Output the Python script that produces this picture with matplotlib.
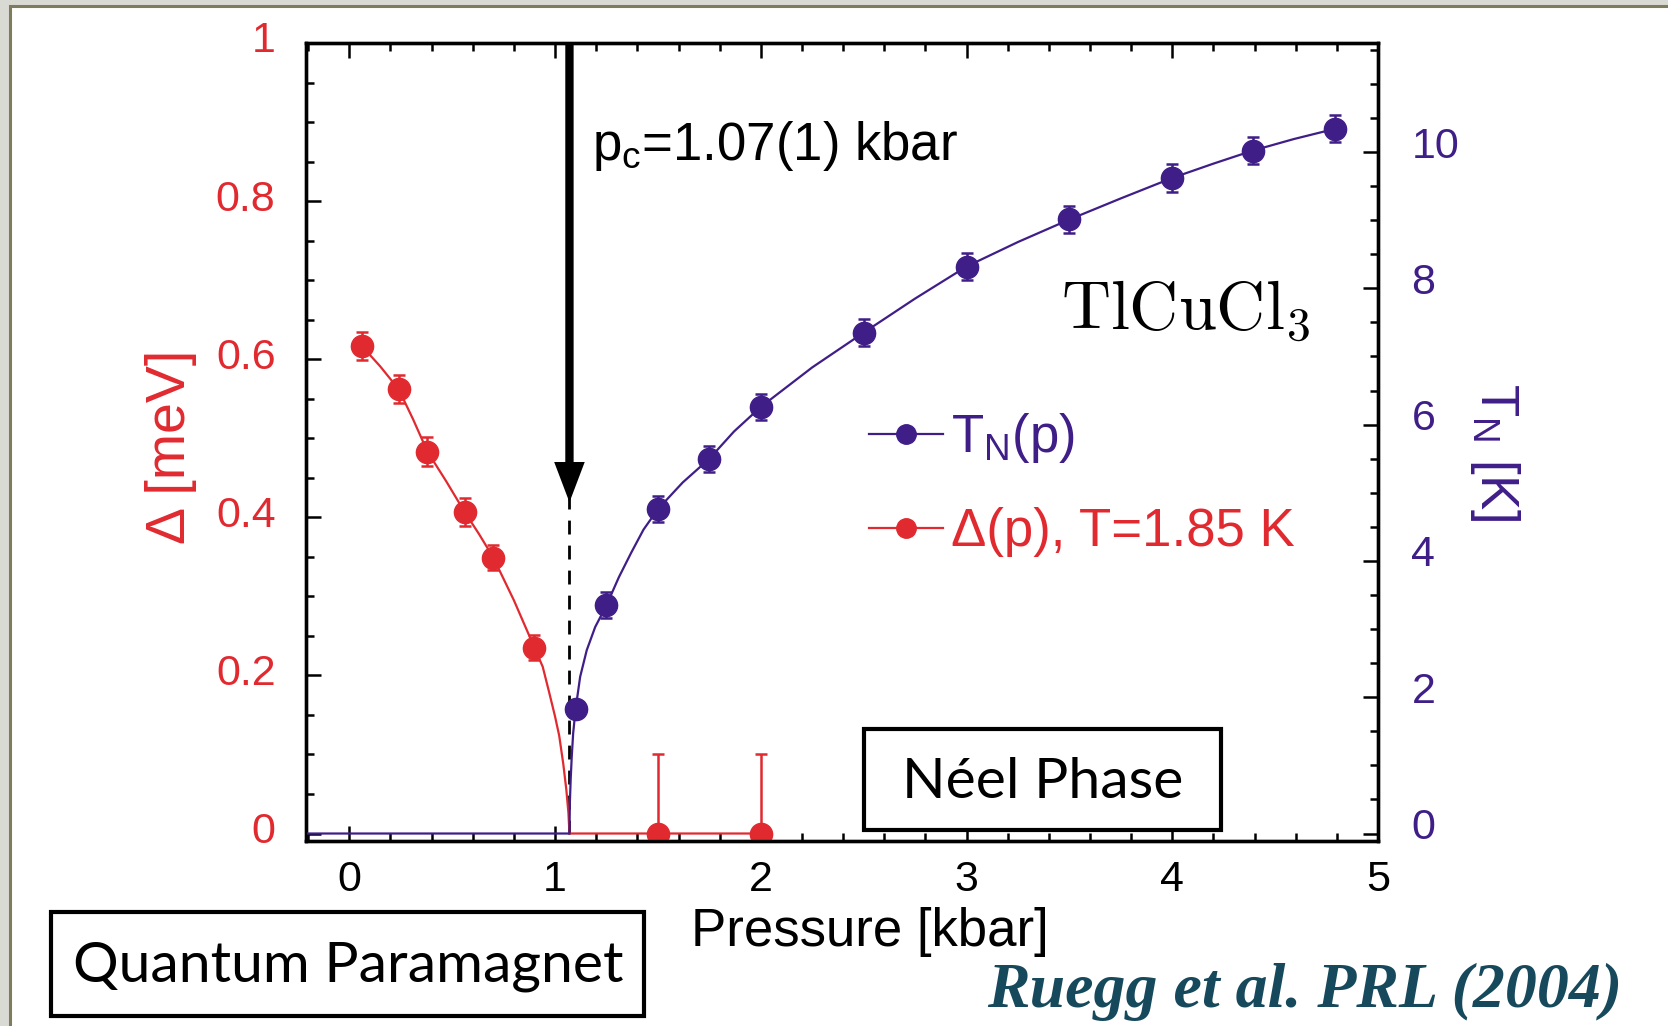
import matplotlib
matplotlib.use("Agg")
import matplotlib.pyplot as plt
from matplotlib.lines import Line2D
from matplotlib.patches import Rectangle
from matplotlib.ticker import MultipleLocator, FuncFormatter
from matplotlib.transforms import ScaledTranslation

plt.rcParams['font.family'] = ['Liberation Sans', 'DejaVu Sans']
plt.rcParams['mathtext.fontset'] = 'custom'
plt.rcParams['mathtext.rm'] = 'Liberation Sans'
plt.rcParams['mathtext.it'] = 'Liberation Sans:italic'

red = '#e02a30'
purple = '#3f1e88'

# gap Delta(p) at T = 1.85 K  [meV]
gap_p = [0.06, 0.24, 0.38, 0.56, 0.70, 0.90, 1.50, 2.00]
gap = [0.617, 0.562, 0.483, 0.407, 0.349, 0.235, 0.0, 0.0]
gap_err_lo = [0.018, 0.018, 0.018, 0.018, 0.016, 0.016, 0.0, 0.0]
gap_err_hi = [0.018, 0.018, 0.018, 0.018, 0.016, 0.016, 0.1, 0.1]

# Neel temperature T_N(p)  [K]
tn_p = [1.10, 1.25, 1.50, 1.75, 2.00, 2.50, 3.00, 3.50, 4.00, 4.39, 4.79]
tn = [1.83, 3.35, 4.76, 5.50, 6.26, 7.35, 8.32, 9.01, 9.62, 10.02, 10.34]
tn_err = [0.12, 0.19, 0.19, 0.19, 0.19, 0.2, 0.2, 0.2, 0.2, 0.2, 0.2]

# fitted curves
gap_fit_p = [0.06, 0.15, 0.24, 0.31, 0.38, 0.47, 0.56, 0.63, 0.70, 0.80, 0.90, 0.94, 0.97,
             1.00, 1.02, 1.04, 1.055, 1.065, 1.07, 2.00]
gap_fit = [0.617, 0.591, 0.562, 0.524, 0.483, 0.446, 0.407, 0.379, 0.349, 0.295, 0.235, 0.211,
           0.180, 0.148, 0.124, 0.088, 0.055, 0.026, 0.0, 0.0]
tn_fit_p = [-0.2, 1.07, 1.072, 1.076, 1.081, 1.088, 1.10, 1.122, 1.154, 1.195, 1.25, 1.31, 1.37,
            1.43, 1.50, 1.62, 1.75, 1.87, 2.00, 2.25, 2.50, 2.75, 3.00, 3.25, 3.50, 3.75,
            4.00, 4.20, 4.39, 4.59, 4.79]
tn_fit = [0, 0, 0.45, 0.80, 1.12, 1.47, 1.83, 2.30, 2.69, 3.03, 3.35, 3.76, 4.12,
          4.46, 4.76, 5.15, 5.50, 5.90, 6.26, 6.84, 7.35, 7.85, 8.32, 8.68, 9.01, 9.32,
          9.62, 9.83, 10.02, 10.19, 10.34]

p_c = 1.07
arrow_tip = 0.431

fig = plt.figure(figsize=(16.68, 10.26), dpi=100)
fig.patch.set_facecolor('#dadad5')
# white slide panel with olive border
fig.add_artist(Rectangle((0.0057, -0.1), 1.2, 1.0937, transform=fig.transFigure,
                         facecolor='white', edgecolor='#7e7c5c', lw=2.2, zorder=0))

ax = fig.add_axes([0.1835, 0.1803, 0.6427, 0.7778])
ax.set_facecolor('none')
ax2 = ax.twinx()

# left axis: gap
ax.plot(gap_fit_p, gap_fit, color=red, lw=1.6, zorder=3)
ax.errorbar(gap_p, gap, yerr=[gap_err_lo, gap_err_hi], fmt='o', color=red, ms=16,
            ecolor=red, elinewidth=1.8, capsize=4, capthick=1.8, zorder=4)

# right axis: Neel temperature
ax2.plot(tn_fit_p, tn_fit, color=purple, lw=1.6, zorder=3)
ax2.errorbar(tn_p, tn, yerr=tn_err, fmt='o', color=purple, ms=16,
             ecolor=purple, elinewidth=1.8, capsize=4, capthick=1.8, zorder=4)

# critical pressure marker
ax.plot([p_c, p_c], [0, arrow_tip], color='black', lw=2, ls=(0, (5, 4)), zorder=2)
ax.annotate('', xy=(p_c, arrow_tip - 0.012), xytext=(p_c, 1.0),
            arrowprops=dict(arrowstyle='simple,head_length=2.9,head_width=2.2,tail_width=0.6',
                            mutation_scale=10, lw=0, color='black',
                            shrinkA=0, shrinkB=0))

ax.set_xlim(-0.21, 5)
ax.set_ylim(-0.0095, 1.0)
ax2.set_ylim(-0.11, 11.6)

ax.xaxis.set_major_locator(MultipleLocator(1))
ax.xaxis.set_minor_locator(MultipleLocator(0.2))
ax.yaxis.set_major_locator(MultipleLocator(0.2))
ax.yaxis.set_minor_locator(MultipleLocator(0.05))
ax.yaxis.set_major_formatter(FuncFormatter(lambda v, pos: f'{v:g}'))
ax2.yaxis.set_major_locator(MultipleLocator(2))
ax2.yaxis.set_minor_locator(MultipleLocator(0.5))

ax.tick_params(which='both', direction='in', top=True, right=False, width=1.8)
ax.tick_params(which='major', length=11)
ax.tick_params(which='minor', length=6)
ax.tick_params(axis='x', labelsize=31, pad=14)
ax.tick_params(axis='y', labelsize=31, labelcolor=red, pad=22)
ax2.tick_params(which='both', direction='in', width=1.8)
ax2.tick_params(which='major', length=11, labelsize=31, labelcolor=purple, pad=24)
ax2.tick_params(which='minor', length=6)
for a in (ax, ax2):
    for s in a.spines.values():
        s.set_linewidth(2.4)

ax.set_xlabel('Pressure [kbar]', fontsize=38)
ax.xaxis.set_label_coords(0.526, -0.083)
ax.set_ylabel('Δ [meV]', fontsize=40, color=red)
ax.yaxis.set_label_coords(-0.102, 0.494)
ax2.set_ylabel(r'T$_\mathrm{N}$ [K]', fontsize=38, color=purple, rotation=270)
ax2.yaxis.set_label_coords(1.134, 0.487)

# legend
handles = [Line2D([], [], color=purple, marker='o', ms=14, lw=1.6),
           Line2D([], [], color=red, marker='o', ms=14, lw=1.6)]
leg = ax2.legend(handles, [r'T$_\mathrm{N}$(p)', 'Δ(p), T=1.85 K'], fontsize=38,
                 loc='upper left', bbox_to_anchor=(0.505, 0.625), bbox_transform=fig.transFigure,
                 frameon=False, handlelength=1.4, handletextpad=0.15, labelspacing=0.8,
                 borderpad=0, labelcolor='linecolor')

# annotations
fig.text(0.355, 0.858, r'p$_\mathrm{c}$=1.07(1) kbar', fontsize=38, ha='left', va='center')
fig.text(0.711, 0.697, r'$\mathrm{TlCuCl}_3$', fontsize=49, ha='center', va='center',
         math_fontfamily='cm')

fig.add_artist(Rectangle((864 / 1668, 1 - 830 / 1026), 357 / 1668, 101 / 1026,
                         transform=fig.transFigure, facecolor='white', edgecolor='black',
                         lw=3, zorder=5))
fig.text(1043 / 1668, 1 - 782 / 1026, 'Néel Phase', fontsize=41, family='Lato',
         ha='center', va='center', zorder=6)

fig.add_artist(Rectangle((51 / 1668, 1 - 1016 / 1026), 593 / 1668, 104 / 1026,
                         transform=fig.transFigure, facecolor='white', edgecolor='black',
                         lw=3, zorder=5))
fig.text(348 / 1668, 1 - 966 / 1026, 'Quantum Paramagnet', fontsize=41, family='Lato',
         ha='center', va='center', zorder=6)

fig.text(1305 / 1668, 1 - 992 / 1026, 'Ruegg et al. PRL (2004)', fontsize=46,
         family='Liberation Serif', style='italic', weight='bold', color='#17495c',
         ha='center', va='center')

# tick labels sit a little above their ticks in the original
fig.canvas.draw()
for t in ax.yaxis.get_major_ticks():
    t.label1.set_transform(t.label1.get_transform() + ScaledTranslation(0, 0.06, fig.dpi_scale_trans))
for t in ax2.yaxis.get_major_ticks():
    t.label2.set_transform(t.label2.get_transform() + ScaledTranslation(0, 0.10, fig.dpi_scale_trans))

fig.savefig('out.png', dpi=100, facecolor=fig.get_facecolor())
